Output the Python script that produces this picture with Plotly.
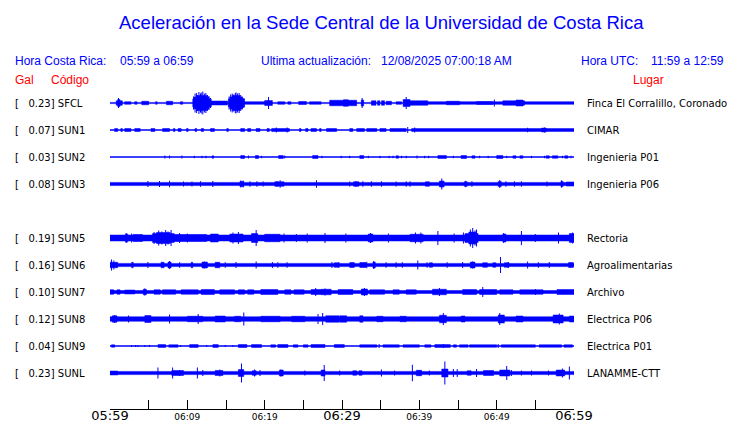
import plotly.graph_objects as go

# ---------------- data (minutes after 05:59, half-amplitudes in Gal) ----------------
CODES = ["SFCL", "SUN1", "SUN2", "SUN3", "SUN5", "SUN6", "SUN7", "SUN8", "SUN9", "SUNL"]
PEAK_GAL = ["0.23", "0.07", "0.03", "0.08", "0.19", "0.16", "0.10", "0.12", "0.04", "0.23"]
PLACES = ["Finca El Corralillo, Coronado", "CIMAR", "Ingenieria P01", "Ingenieria P06",
          "Rectoria", "Agroalimentarias", "Archivo", "Electrica P06", "Electrica P01", "LANAMME-CTT"]
SLOTS = [0, 1, 2, 3, 5, 6, 7, 8, 9, 10]   # SUN4 slot is empty

TICK_MIN = [0, 5, 10, 15, 20, 25, 30, 35, 40, 45, 50, 55, 60]
TICK_SMALL = ["", "", "06:09", "", "06:19", "", "", "", "06:39", "", "06:49", "", ""]
TICK_BIG_MIN = [0, 30, 60]
TICK_BIG = ["05:59", "06:29", "06:59"]

SFCL_SEG = [(0,60,0.012),(0.8,1.6,0.045),(1.0,1.3,0.07),(1.9,2.7,0.025),(3.2,3.5,0.025),(4.1,5.0,0.035),(5.9,6.1,0.025),(7.3,8.1,0.035),(9.1,9.4,0.025),(10.7,13.1,0.08),(10.9,12.8,0.12),(11.2,12.5,0.15),(13.1,15.2,0.04),(15.3,17.4,0.08),(15.5,17.1,0.12),(15.8,16.8,0.15),(17.4,20.0,0.025),(20.0,21.0,0.05),(21.7,22.6,0.025),(23.0,23.4,0.025),(24.4,25.4,0.03),(25.8,27.3,0.025),(28.4,31.9,0.055),(30.2,30.8,0.065),(32.5,32.8,0.06),(33.8,34.4,0.045),(34.6,34.9,0.045),(35.1,35.5,0.045),(35.7,36.4,0.035),(37.0,37.7,0.025),(37.9,38.8,0.07),(38.8,41.1,0.045),(41.1,60,0.025),(43.5,45.2,0.035),(47.4,49.5,0.03),(50.8,53.6,0.045),(52.5,53.4,0.06)]
SFCL_SPK = [(1.1,0.1),(10.8,0.13),(11.0,0.19),(11.2,0.2),(11.3,0.16),(11.5,0.22),(11.7,0.19),(11.8,0.21),(12.0,0.23),(12.2,0.19),(12.4,0.2),(12.6,0.16),(12.8,0.14),(13.0,0.1),(15.4,0.13),(15.6,0.17),(15.8,0.19),(16.0,0.17),(16.2,0.2),(16.3,0.21),(16.5,0.19),(16.7,0.2),(16.9,0.16),(17.1,0.13),(17.3,0.1),(20.5,0.12),(32.6,0.1),(38.3,0.12),(49.7,0.07)]

SUN1_SEG = [(0,60,0.01),(0.6,1.0,0.03),(1.4,1.6,0.03),(1.9,2.7,0.03),(3.2,3.9,0.03),(5.3,5.8,0.03),(6.8,7.7,0.03),(8.2,8.4,0.03),(8.8,9.2,0.03),(9.9,10.1,0.03),(11.0,11.2,0.03),(11.8,12.1,0.03),(13.0,13.5,0.03),(15.1,15.3,0.03),(16.9,17.4,0.03),(17.8,18.2,0.03),(18.9,19.4,0.03),(20.3,20.6,0.03),(20.9,23.2,0.03),(24.5,24.7,0.03),(25.3,25.6,0.03),(26.0,26.7,0.03),(27.1,27.3,0.03),(28.0,29.3,0.03),(31.0,31.4,0.03),(31.9,32.9,0.03),(33.2,34.5,0.03),(34.9,35.7,0.03),(36.2,38.3,0.03),(39.0,60,0.028),(55.8,56.4,0.04)]
SUN1_SPK = [(21.5,0.05),(22.9,0.05),(38.5,0.06),(39.4,0.05),(54.0,0.045),(56.2,0.05)]

SUN2_SEG = [(0,60,0.01),(13.2,13.4,0.025),(16.9,17.4,0.03),(18.8,19.2,0.03),(21.8,22.4,0.03),(26.2,26.9,0.03),(32.3,32.8,0.03),(37.0,37.3,0.025),(42.4,43.5,0.03),(45.4,46.1,0.03),(46.8,47.2,0.025),(50.0,50.8,0.03),(52.1,52.5,0.025),(53.0,53.4,0.025),(56.4,56.8,0.025),(57.2,57.9,0.025),(58.8,59.2,0.025)]
SUN2_SPK = [(7.1,0.03),(7.7,0.03),(9.3,0.03),(10.9,0.025),(11.9,0.025),(12.4,0.025),(17.9,0.03),(19.6,0.025),(22.6,0.03),(27.4,0.025),(29.9,0.025),(31.0,0.025),(33.4,0.025),(34.9,0.025),(36.1,0.025),(36.6,0.025),(37.7,0.025),(38.3,0.025),(39.7,0.03),(40.7,0.025),(41.2,0.025),(44.4,0.025),(47.8,0.025),(48.9,0.025),(51.3,0.025),(54.5,0.025),(56.2,0.025),(58.5,0.025),(59.6,0.025)]

SUN3_SEG = [(0,60,0.032),(16.8,17.3,0.05),(21.3,22.5,0.045),(31.5,32.2,0.045),(40.8,41.3,0.045),(42.6,43.2,0.06),(45.8,46.2,0.045),(50.2,50.6,0.05),(58.3,58.6,0.05),(59.0,60,0.04)]
SUN3_SPK = [(4.9,0.06),(6.4,0.06),(7.7,0.065),(9.5,0.05),(10.6,0.05),(11.7,0.055),(13.3,0.06),(16.9,0.07),(17.2,0.07),(18.1,0.055),(19.0,0.055),(19.8,0.05),(21.6,0.06),(22.0,0.075),(26.7,0.075),(31.0,0.05),(31.8,0.06),(32.7,0.055),(33.8,0.055),(35.1,0.055),(37.0,0.05),(38.3,0.055),(38.8,0.055),(42.9,0.11),(46.0,0.065),(46.8,0.055),(50.4,0.08),(51.2,0.055),(52.3,0.055),(53.2,0.055),(56.5,0.05),(58.4,0.075)]

SUN5_SEG = [(0,60,0.06),(2.0,2.3,0.08),(3.0,4.2,0.07),(5.5,8.3,0.09),(6.0,7.8,0.11),(8.3,12.5,0.07),(13.0,14.0,0.08),(15.5,17.2,0.08),(18.3,19.1,0.09),(20.0,22.0,0.075),(33.4,34.0,0.08),(38.8,40.5,0.075),(45.9,47.6,0.09),(46.4,47.3,0.12),(50.8,51.2,0.08),(59.4,60,0.09)]
SUN5_SPK = [(2.1,0.1),(2.8,0.09),(5.7,0.12),(6.3,0.15),(6.7,0.13),(7.2,0.16),(7.5,0.13),(7.9,0.16),(9.0,0.1),(10.0,0.09),(15.9,0.11),(16.6,0.12),(18.9,0.16),(22.5,0.09),(24.1,0.08),(25.5,0.09),(27.8,0.1),(30.5,0.09),(33.7,0.1),(36.0,0.09),(39.5,0.11),(40.2,0.11),(42.4,0.14),(44.5,0.09),(45.7,0.11),(46.6,0.17),(46.9,0.2),(47.2,0.15),(47.4,0.17),(50.9,0.1),(53.2,0.14),(55.0,0.08),(58.0,0.11),(59.8,0.11)]

SUN6_SEG = [(0,60,0.032),(0.0,1.0,0.055),(2.8,3.0,0.055),(6.6,7.0,0.055),(7.5,7.9,0.06),(10.5,10.7,0.055),(11.9,12.6,0.06),(13.6,14.2,0.055),(29.0,29.6,0.045),(31.0,31.6,0.05),(32.3,33.1,0.05),(34.0,34.3,0.06),(41.3,41.7,0.045),(46.6,47.2,0.06),(48.2,48.8,0.045),(49.5,49.9,0.045),(51.0,51.6,0.045),(59.3,59.9,0.05)]
SUN6_SPK = [(0.2,0.11),(0.5,0.09),(4.9,0.06),(7.7,0.08),(9.0,0.055),(12.2,0.07),(14.9,0.055),(16.3,0.06),(18.9,0.07),(21.0,0.06),(21.7,0.055),(22.9,0.055),(28.7,0.06),(29.6,0.055),(33.2,0.065),(34.1,0.08),(35.7,0.055),(37.0,0.055),(37.8,0.055),(39.8,0.09),(41.0,0.055),(43.6,0.055),(45.6,0.06),(46.9,0.07),(50.5,0.16),(51.5,0.06),(54.0,0.07),(55.4,0.055),(56.8,0.06)]

SUN7_SEG = [(0,60,0.03),(0.0,0.5,0.045),(0.9,1.3,0.045),(1.9,3.2,0.04),(4.3,4.7,0.055),(5.7,6.5,0.045),(6.8,8.5,0.045),(9.2,11.4,0.045),(11.8,13.5,0.05),(14.2,16.1,0.045),(16.6,17.4,0.045),(17.8,18.6,0.045),(19.5,21.7,0.05),(22.6,23.4,0.045),(23.8,25.1,0.045),(26.0,27.3,0.05),(27.3,28.6,0.055),(29.5,31.4,0.05),(32.5,33.3,0.06),(33.6,35.5,0.045),(36.6,37.4,0.045),(38.3,39.6,0.045),(41.7,43.5,0.055),(45.6,47.4,0.05),(47.8,50.0,0.05),(50.4,52.1,0.045),(53.0,56.0,0.045),(57.8,60,0.05)]
SUN7_SPK = [(4.5,0.07),(26.6,0.08),(27.8,0.07),(32.9,0.08),(42.6,0.08),(48.2,0.1),(55.0,0.06)]

SUN8_SEG = [(0,60,0.045),(0.3,0.9,0.065),(4.5,5.3,0.07),(10.0,12.0,0.055),(13.6,14.9,0.06),(16.1,16.9,0.055),(19.5,22.0,0.055),(23.5,25.2,0.055),(27.9,29.6,0.065),(29.7,30.6,0.065),(32.3,32.7,0.065),(34.5,35.3,0.055),(37.5,38.3,0.055),(42.6,43.5,0.075),(45.4,45.9,0.06),(50.2,51.0,0.08),(52.5,53.4,0.06),(57.3,58.6,0.08),(59.4,60,0.06)]
SUN8_SPK = [(0.6,0.08),(2.4,0.07),(7.7,0.09),(11.4,0.1),(17.3,0.13),(26.9,0.1),(27.5,0.12),(43.1,0.12),(50.4,0.12),(58.1,0.11)]

SUN9_SEG = [(0,60,0.01),(0.2,0.6,0.025),(6.2,7.2,0.028),(7.6,8.8,0.025),(10.3,11.4,0.028),(13.3,14.0,0.028),(16.6,17.7,0.03),(18.3,19.6,0.028),(20.8,21.4,0.025),(21.7,23.0,0.03),(23.7,24.3,0.025),(25.0,25.6,0.025),(26.0,27.8,0.03),(29.0,30.3,0.028),(32.3,34.5,0.025),(35.3,37.4,0.025),(37.9,40.0,0.025),(40.7,41.5,0.025),(42.0,44.0,0.028),(44.4,44.8,0.025),(45.2,46.3,0.025),(46.5,50.0,0.025),(50.6,55.0,0.025),(55.5,58.4,0.025),(58.7,59.8,0.025)]
SUN9_SPK = [(2.8,0.02),(3.3,0.02),(3.6,0.02),(4.5,0.02),(5.1,0.02),(9.1,0.02),(12.5,0.02),(14.9,0.02),(15.9,0.02),(34.8,0.04),(43.1,0.04),(50.2,0.04)]

SUNL_SEG = [(0,60,0.032),(0.0,1.0,0.038),(8.0,9.5,0.05),(13.6,14.6,0.05),(16.6,17.3,0.07),(18.4,18.9,0.045),(21.9,22.4,0.06),(27.3,27.8,0.06),(31.4,31.9,0.045),(32.2,32.6,0.045),(39.6,40.3,0.055),(42.9,43.7,0.08),(46.2,46.7,0.045),(48.3,49.6,0.05),(50.4,51.7,0.06),(57.7,58.8,0.06)]
SUNL_SPK = [(6.2,0.11),(8.1,0.11),(9.0,0.06),(11.3,0.11),(12.0,0.06),(14.2,0.07),(17.0,0.19),(18.7,0.07),(19.4,0.06),(22.1,0.07),(25.2,0.05),(27.7,0.16),(29.7,0.05),(35.1,0.07),(36.8,0.05),(39.1,0.165),(40.0,0.06),(41.3,0.05),(43.3,0.23),(44.4,0.08),(44.9,0.08),(47.4,0.08),(51.3,0.14),(51.9,0.06),(53.2,0.05),(54.5,0.05),(56.7,0.05),(58.5,0.09),(59.4,0.13)]

SEGMENTS = [SFCL_SEG, SUN1_SEG, SUN2_SEG, SUN3_SEG, SUN5_SEG, SUN6_SEG, SUN7_SEG, SUN8_SEG, SUN9_SEG, SUNL_SEG]
SPIKES = [SFCL_SPK, SUN1_SPK, SUN2_SPK, SUN3_SPK, SUN5_SPK, SUN6_SPK, SUN7_SPK, SUN8_SPK, SUN9_SPK, SUNL_SPK]

# ---------------- layout geometry ----------------
W, H = 740, 423
L, R, T, B = 110, 166, 90, 14
PW, PH = W - L - R, H - T - B
GAL_PER_PX = 0.02
YMAX = PH * GAL_PER_PX
SLOT_GAL = 27 * GAL_PER_PX
FIRST_CENTER = YMAX - 13 * GAL_PER_PX
BLUE = "#0000FF"
RED = "#FF0000"
HFONT = "Liberation Sans, Arial, sans-serif"
DFONT = "DejaVu Sans, sans-serif"
PAD = 2   # annotation inner padding compensation


def center(slot):
    return FIRST_CENTER - slot * SLOT_GAL


def px_x(px):
    return (px - L) / PW


def px_y(py):
    return (H - B - py) / PH


fig = go.Figure()

for segs, spks, slot in zip(SEGMENTS, SPIKES, SLOTS):
    c = center(slot)
    xs, ys = [], []
    for t0, t1, h in segs:
        xs += [t0, t1, t1, t0, t0, None]
        ys += [c + h, c + h, c - h, c - h, c + h, None]
    fig.add_trace(go.Scatter(x=xs, y=ys, mode="lines", fill="toself", fillcolor=BLUE,
                             line=dict(color=BLUE, width=0.5), hoverinfo="skip", showlegend=False))
    sx, sy = [], []
    for t, h in spks:
        sx += [t, t, None]
        sy += [c - h, c + h, None]
    fig.add_trace(go.Scatter(x=sx, y=sy, mode="lines", line=dict(color=BLUE, width=1),
                             hoverinfo="skip", showlegend=False))

# invisible trace to activate the overlay axis with big labels
fig.add_trace(go.Scatter(x=[0, 60], y=[0, 0], xaxis="x2", mode="markers",
                         marker=dict(opacity=0), hoverinfo="skip", showlegend=False))

ann = []
ann.append(dict(text="Aceleración en la Sede Central de la Universidad de Costa Rica",
                x=px_x(381), y=px_y(22), xanchor="center", yanchor="middle",
                font=dict(family=HFONT, size=18.5, color=BLUE)))
for txt, xp, anchor in [("Hora Costa Rica:", 15, "left"), ("05:59 a 06:59", 120, "left"),
                        ("Ultima actualización:", 261, "left"),
                        ("12/08/2025 07:00:18 AM", 381, "left"),
                        ("Hora UTC:", 581, "left"), ("11:59 a 12:59", 724, "right")]:
    ann.append(dict(text=txt, x=px_x(xp - PAD if anchor == "left" else xp + PAD), y=px_y(61),
                    xanchor=anchor, yanchor="middle",
                    font=dict(family=HFONT, size=12, color=BLUE)))
for txt, xp, anchor in [("Gal", 15, "left"), ("Código", 51, "left"), ("Lugar", 648, "center")]:
    ann.append(dict(text=txt, x=px_x(xp - PAD if anchor == "left" else xp), y=px_y(80),
                    xanchor=anchor, yanchor="middle",
                    font=dict(family=HFONT, size=12, color=RED)))

NB = "\u00a0"
for code, peak, place, slot in zip(CODES, PEAK_GAL, PLACES, SLOTS):
    c = center(slot)
    ann.append(dict(text="[" + NB * 3 + peak + "]" + NB + code, x=px_x(15 - PAD), y=c, yref="y",
                    xanchor="left", yanchor="middle", font=dict(family=DFONT, size=10, color="black")))
    ann.append(dict(text=place, x=px_x(587 - PAD), y=c, yref="y", xanchor="left", yanchor="middle",
                    font=dict(family=DFONT, size=10, color="black")))

for a in ann:
    a.setdefault("xref", "paper")
    a.setdefault("yref", "paper")
    a["showarrow"] = False

fig.update_layout(
    width=W, height=H, margin=dict(l=L, r=R, t=T, b=B),
    paper_bgcolor="white", plot_bgcolor="white",
    annotations=ann,
    xaxis=dict(range=[0, 60], tickmode="array", tickvals=TICK_MIN, ticktext=TICK_SMALL,
               ticks="inside", ticklen=9, tickcolor="black", tickwidth=1,
               showline=True, linecolor="black", linewidth=1, showgrid=False, zeroline=False,
               tickfont=dict(family=DFONT, size=9, color="black"), automargin=False,
               ticklabelstandoff=-1),
    xaxis2=dict(range=[0, 60], overlaying="x", side="bottom", tickmode="array",
                tickvals=TICK_BIG_MIN, ticktext=TICK_BIG, ticks="", showline=False,
                showgrid=False, zeroline=False, automargin=False,
                tickfont=dict(family=DFONT, size=13, color="black"), ticklabelstandoff=-3),
    yaxis=dict(range=[0, YMAX], visible=False, fixedrange=True),
)

fig.write_html("out.html", config={"displayModeBar": False},
               post_script="document.body.style.margin='0';document.body.style.overflow='hidden';")
